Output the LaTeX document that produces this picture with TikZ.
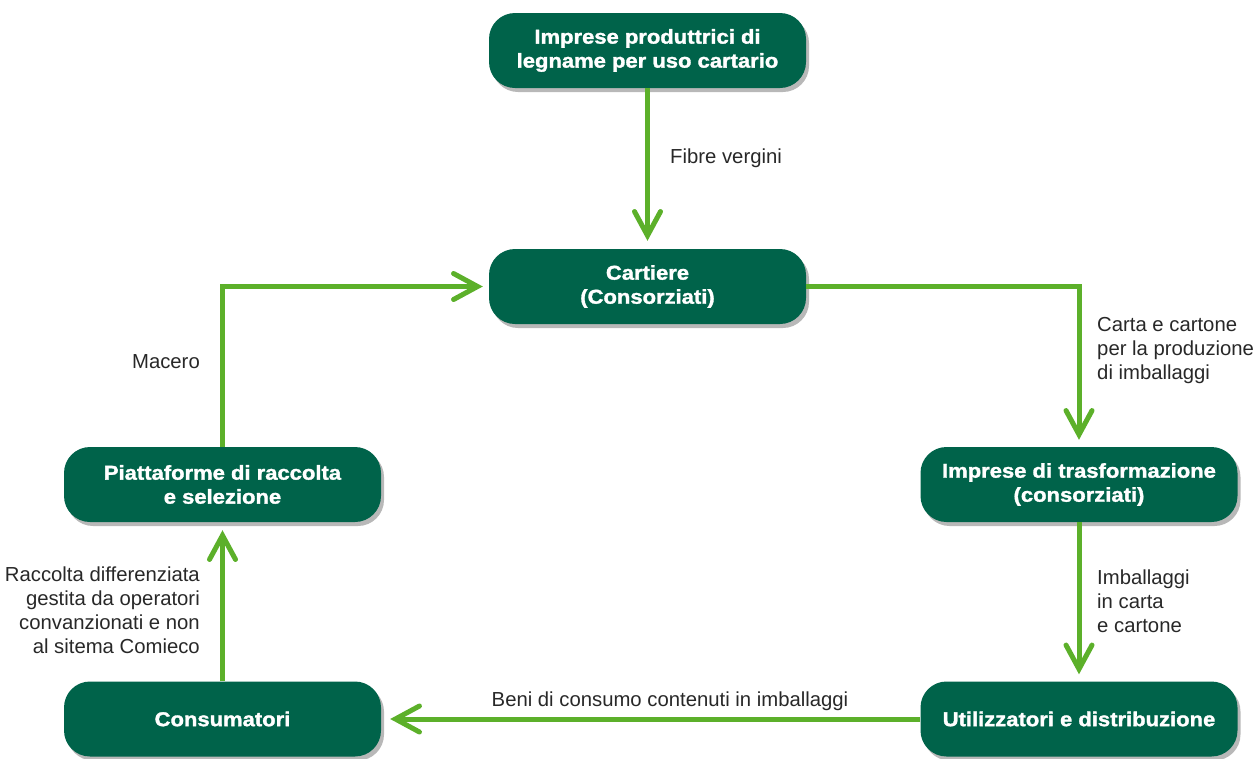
\documentclass[tikz,border=0pt]{standalone}
\usepackage{fontspec}
\setmainfont{Liberation Sans}
\newfontfamily\boxfont{Liberation Sans Bold}[FakeBold=1.6, FakeStretch=1.1]
\usetikzlibrary{arrows.meta,shadows}
\definecolor{boxgreen}{RGB}{0,99,74}
\definecolor{arrgreen}{RGB}{92,176,42}
\definecolor{lbl}{RGB}{40,40,40}
\begin{document}
\begin{tikzpicture}[x=1pt,y=-1pt,
  stagebox/.style={fill=boxgreen, rounded corners=26pt, minimum width=317pt, minimum height=75pt,
    inner sep=0pt, align=center, text=white,
    font=\boxfont\fontsize{20}{24}\selectfont,
    drop shadow={shadow xshift=3pt, shadow yshift=-4pt, opacity=0.28, fill=black}},
  arr/.style={draw=arrgreen, line width=5pt,
    -{Straight Barb[length=24pt,width=26pt,line width=5pt,line cap=round]}},
  lab/.style={text=lbl, font=\fontsize{20.3}{24}\selectfont, inner sep=0pt}]
\useasboundingbox (0,0) rectangle (1258,758);
\node[stagebox] (top) at (647.5,50.5) {Imprese produttrici di\\legname per uso cartario};
\node[stagebox] (cart) at (647.5,286.5) {Cartiere\\(Consorziati)};
\node[stagebox] (trasf) at (1079,484.5) {Imprese di trasformazione\\(consorziati)};
\node[stagebox] (util) at (1079,719) {Utilizzatori e distribuzione};
\node[stagebox] (piatt) at (222.5,484.5) {Piattaforme di raccolta\\e selezione};
\node[stagebox] (cons) at (222.5,719) {Consumatori};

\draw[arr, shorten >=8pt] (top.south) -- (cart.north);
\draw[arr, shorten >=6pt] (piatt.north) |- (cart.west);
\draw[arr, shorten >=7pt] (cart.east) -| (trasf.north);
\draw[arr, shorten >=7pt] (trasf.south) -- (util.north);
\draw[arr, shorten >=9pt] (util.west) -- (cons.east);
\draw[arr, shorten >=8pt] (cons.north) -- (piatt.south);

\node[lab, anchor=west] (l1) at (670,158) {Fibre vergini};
\node[lab, anchor=east] (l2) at (200,362) {Macero};
\node[lab, anchor=west, align=left] (l3) at (1097,351) {Carta e cartone\\per la produzione\\di imballaggi};
\node[lab, anchor=west, align=left] (l4) at (1097,601) {Imballaggi\\in carta\\e cartone};
\node[lab] (l5) at (670,701) {Beni di consumo contenuti in imballaggi};
\node[lab, anchor=east, align=right] (l6) at (200,610) {Raccolta differenziata\\gestita da operatori\\convanzionati e non\\al sitema Comieco};
\end{tikzpicture}
\end{document}
